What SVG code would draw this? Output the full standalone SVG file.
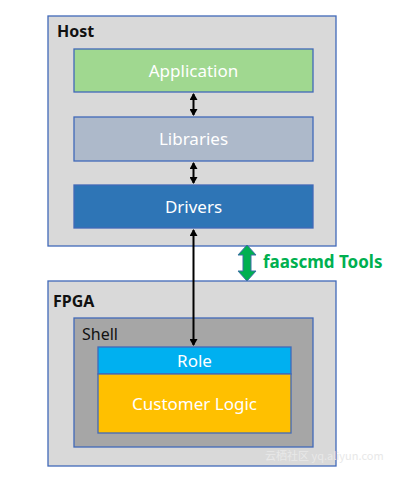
<svg xmlns="http://www.w3.org/2000/svg" width="403" height="479" viewBox="0 0 403 479">
<defs>
<style>
.box{stroke:#4169B8;stroke-width:1.3}
.lbl{font-family:"Noto Sans","Liberation Sans",sans-serif;fill:#fff;font-size:17px;text-anchor:middle}
.title{font-family:"Noto Sans","Liberation Sans",sans-serif;font-weight:bold;font-size:16px;fill:#111}
.conn{stroke:#000;stroke-width:2;fill:none}
</style>
<marker id="ah" markerWidth="8" markerHeight="8" refX="6" refY="4" orient="auto-start-reverse" markerUnits="userSpaceOnUse">
<path d="M0,0 L7,4 L0,8 Z" fill="#000"/>
</marker>
</defs>
<rect width="403" height="479" fill="#fff"/>
<g id="host">
<rect class="box" x="48" y="16" width="288" height="230" fill="#D9D9D9"/>
<text class="title" x="57" y="37">Host</text>
</g>
<g id="application">
<rect class="box" x="74" y="49" width="239" height="43" fill="#A0D890"/>
<text class="lbl" x="193.5" y="77">Application</text>
</g>
<g id="libraries">
<rect class="box" x="74" y="117" width="239" height="44" fill="#ADB9CA"/>
<text class="lbl" x="193.5" y="145">Libraries</text>
</g>
<g id="drivers">
<rect class="box" x="74" y="185" width="239" height="43" fill="#2E75B6"/>
<text class="lbl" x="193.5" y="213">Drivers</text>
</g>
<g id="fpga">
<rect class="box" x="48" y="281" width="288" height="185" fill="#D9D9D9"/>
<text class="title" x="53" y="307">FPGA</text>
</g>
<g id="shell">
<rect class="box" x="74" y="318" width="239" height="129" fill="#A6A6A6"/>
<text x="82" y="340" font-family="'Noto Sans','Liberation Sans',sans-serif" font-size="16" fill="#111">Shell</text>
</g>
<g id="role">
<rect class="box" x="98" y="347" width="193" height="27" fill="#00B0F0"/>
<text class="lbl" x="194.5" y="367">Role</text>
</g>
<g id="customer-logic">
<rect class="box" x="98" y="374" width="193" height="59" fill="#FFC000"/>
<text class="lbl" x="194.5" y="410">Customer Logic</text>
</g>
<g id="connectors">
<line class="conn" x1="193.5" y1="94" x2="193.5" y2="115" marker-start="url(#ah)" marker-end="url(#ah)"/>
<line class="conn" x1="193.5" y1="163" x2="193.5" y2="183" marker-start="url(#ah)" marker-end="url(#ah)"/>
<line class="conn" x1="193.5" y1="230" x2="193.5" y2="345" marker-start="url(#ah)" marker-end="url(#ah)"/>
<path d="M247,245 L256,255 L251,255 L251,271 L256,271 L247,281 L238,271 L243,271 L243,255 L238,255 Z" fill="#00B050" stroke="#3A6EA5" stroke-width="1"/>
<text x="263" y="268" font-family="'Noto Sans','Liberation Sans',sans-serif" font-weight="bold" font-size="17" fill="#00B050">faascmd Tools</text>
</g>
<text x="265" y="460" font-family="'Noto Sans CJK SC','Liberation Sans',sans-serif" font-size="11" fill="#E8E8E8">云栖社区 yq.aliyun.com</text>
</svg>
